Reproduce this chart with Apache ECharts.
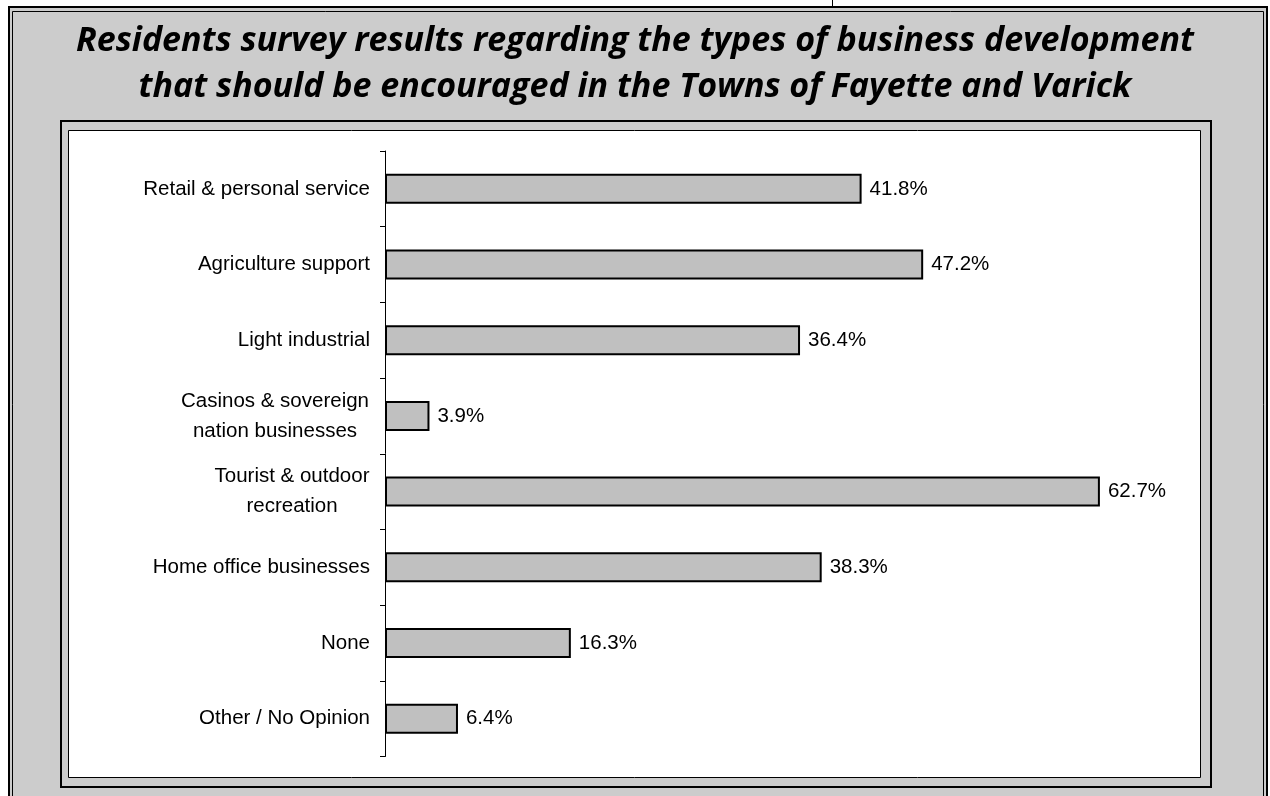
<!DOCTYPE html>
<html>
<head>
<meta charset="utf-8">
<script src="https://cdn.jsdelivr.net/npm/echarts@6/dist/echarts.min.js"></script>
<style>
html,body{margin:0;padding:0;background:#fff;}
#chart{width:1270px;height:796px;}
</style>
</head>
<body>
<div id="chart"></div>
<script>
const categories = [
  'Retail & personal service',
  'Agriculture support',
  'Light industrial',
  'Casinos & sovereign\nnation businesses',
  'Tourist & outdoor\nrecreation',
  'Home office businesses',
  'None',
  'Other / No Opinion'
];
const values = [41.8, 47.2, 36.4, 3.9, 62.7, 38.3, 16.3, 6.4];
const titleLines = [
  'Residents survey results regarding the types of business development',
  'that should be encouraged in the Towns of Fayette and Varick'
];

const LABEL_FONT = "20.5px 'Liberation Sans'";
const cv = document.createElement('canvas').getContext('2d');
cv.font = LABEL_FONT;
const rich = {};
const labelKeys = categories.map((c, i) => {
  const lines = c.split('\n');
  if (lines.length < 2) return null;
  const w = Math.ceil(Math.max(...lines.map(l => cv.measureText(l).width))) + 1;
  rich['c' + i] = { width: w, align: 'center', fontSize: 20.5, fontFamily: 'Liberation Sans', color: '#000', lineHeight: 30 };
  return 'c' + i;
});

const chart = echarts.init(document.getElementById('chart'), null, { renderer: 'canvas' });
chart.setOption({
  animation: false,
  backgroundColor: '#ffffff',
  graphic: [
    { type: 'rect', z: -10, shape: { x: 9, y: 7, width: 1258, height: 800 }, style: { fill: '#cccccc', stroke: '#000', lineWidth: 2 } },
    { type: 'rect', z: -9, shape: { x: 12.5, y: 11.5, width: 1251, height: 800 }, style: { fill: 'none', stroke: '#000', lineWidth: 1 } },
    { type: 'line', z: -9, shape: { x1: 832.5, y1: 0, x2: 832.5, y2: 7 }, style: { stroke: '#000', lineWidth: 1 } },
    { type: 'rect', z: -8, shape: { x: 61, y: 121, width: 1150, height: 666 }, style: { fill: '#cccccc', stroke: '#000', lineWidth: 2 } },
    { type: 'rect', z: -7, shape: { x: 68.5, y: 130.5, width: 1132, height: 647 }, style: { fill: '#ffffff', stroke: '#000', lineWidth: 1 } }
  ],
  title: {
    text: titleLines.join('\n'),
    left: 'center',
    top: 18,
    padding: 0,
    textStyle: {
      fontFamily: 'Open Sans',
      fontStyle: 'italic',
      fontWeight: 'bold',
      fontSize: 34,
      lineHeight: 46,
      color: '#000'
    }
  },
  grid: { left: 385, right: 88, top: 151, bottom: 39.5, containLabel: false },
  xAxis: { type: 'value', min: 0, max: 69.9, show: false },
  yAxis: {
    type: 'category',
    inverse: true,
    data: categories,
    axisLine: { show: true, lineStyle: { color: '#000', width: 1 } },
    axisTick: { show: true, length: 5, inside: false, lineStyle: { color: '#000', width: 1 } },
    axisLabel: {
      margin: 15,
      fontSize: 20.5,
      fontFamily: 'Liberation Sans',
      color: '#000',
      lineHeight: 30,
      formatter: (v, i) => {
        const k = labelKeys[i];
        if (!k) return v;
        return v.split('\n').map(l => '{' + k + '|' + l + '}').join('\n');
      },
      rich: rich
    },
    splitLine: { show: false }
  },
  series: [{
    type: 'bar',
    data: values,
    barWidth: 30,
    itemStyle: { color: '#c0c0c0', borderColor: '#000', borderWidth: 2 },
    label: {
      show: true,
      position: 'right',
      distance: 8,
      fontSize: 20.5,
      fontFamily: 'Liberation Sans',
      color: '#000',
      formatter: p => p.value.toFixed(1) + '%'
    }
  }]
});
</script>
</body>
</html>
